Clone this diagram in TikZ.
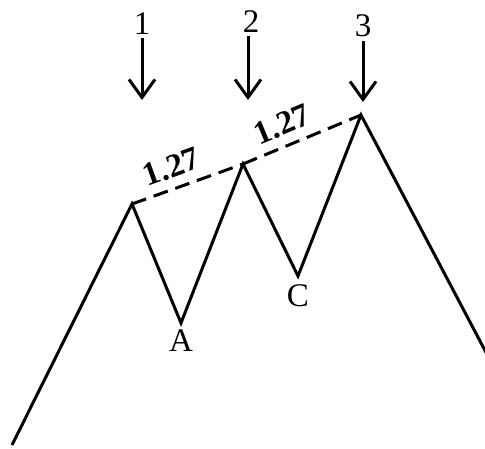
\documentclass[tikz,border=0pt]{standalone}
\usepackage{fontspec}
\setmainfont{Liberation Serif}
\usetikzlibrary{arrows.meta}

\begin{document}
\begin{tikzpicture}[x=1pt, y=-1pt, line width=3pt,
  every node/.style={font=\fontsize{33}{38}\selectfont, inner sep=2pt},
  wave/.style={line join=miter},
  fib/.style={dash pattern=on 15pt off 8pt},
  mark arrow/.style={-{Straight Barb[length=18pt, width=26pt, line width=3pt]}}]
\useasboundingbox (0,0) rectangle (485,448);
% turning points of the wave
\coordinate (p0) at (12,445);
\coordinate (p1) at (132,204);
\coordinate (a) at (181,323);
\coordinate (p2) at (243,164);
\coordinate (c) at (298,276);
\coordinate (p3) at (361,115);
\coordinate (p4) at (490,360);
\draw[wave] (p0) -- (p1) -- (a) -- (p2) -- (c) -- (p3) -- (p4);
% trend line over the tops
\draw[fib] (p1) -- (p2) node[pos=0.42, above=7pt, sloped] (r1) {\textbf{1.27}};
\draw[fib] (p2) -- (p3) node[pos=0.4, above=7pt, sloped] (r2) {\textbf{1.27}};
\node[below=3pt] (la) at (a) {A};
\node[below=5pt] (lc) at (c) {C};
% markers above the tops
\node (n1) at (142,24) {1};
\node (n2) at (251,22) {2};
\node (n3) at (363,26) {3};
\coordinate (t1) at (142,100);
\coordinate (t2) at (248,100);
\coordinate (t3) at (363,102);
\draw[mark arrow] (n1) -- (t1);
\draw[mark arrow] (n2.south -| t2) -- (t2);
\draw[mark arrow] (n3) -- (t3);
\end{tikzpicture}
\end{document}
